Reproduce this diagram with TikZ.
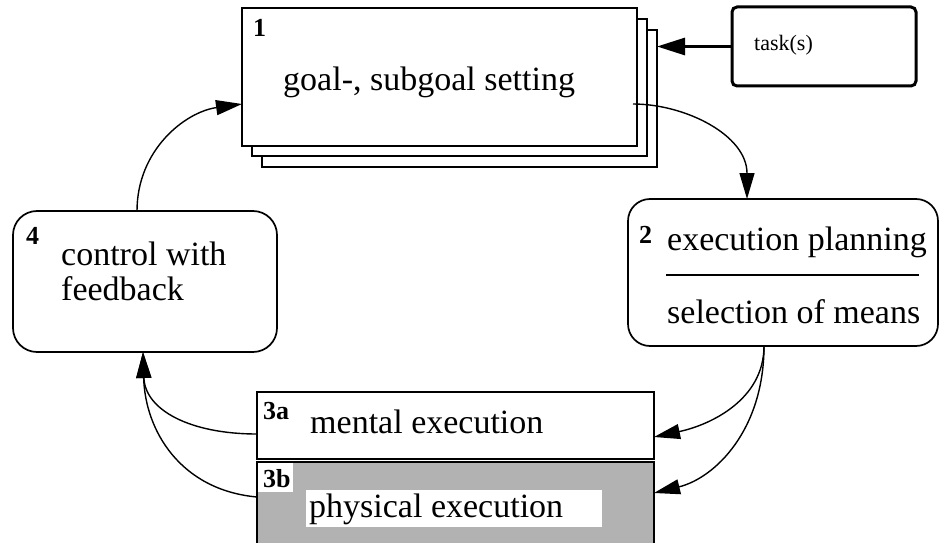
\documentclass[tikz,border=0pt]{standalone}
\usepackage{fontspec}
\setmainfont{Liberation Serif}
\usetikzlibrary{arrows.meta}
\definecolor{shade}{RGB}{178,178,178}
\begin{document}
\begin{tikzpicture}[x=1pt,y=-1pt,
  box/.style={draw,line width=1.7pt,rectangle,inner sep=0pt,outer sep=0pt,anchor=north west,fill=white},
  rbox/.style={box,rounded corners=22pt},
  main/.style={font=\fontsize{34}{36}\selectfont,inner sep=0pt,anchor=base west},
  num/.style={font=\fontsize{26}{27}\selectfont\bfseries,inner sep=0pt,anchor=base west},
  conn/.style={line width=1.4pt,-{Triangle[length=26pt,width=15pt]}},
  thickconn/.style={line width=3pt,-{Triangle[length=28pt,width=17pt]}},
  ]
\useasboundingbox (0,0) rectangle (940,543);
\fill[white] (0,0) rectangle (940,543);
% box 1 (stacked)
\node[box,minimum width=395pt,minimum height=137pt] (b1c) at (262,30) {};
\node[box,minimum width=395pt,minimum height=137pt] (b1b) at (252,19) {};
\node[box,minimum width=395pt,minimum height=138pt] (b1a) at (242,8) {};
\node[num] (n1) at (253,37) {1};
\node[main] (t1) at (283,91) {goal-, subgoal setting};
% task box
\node[box,line width=3pt,rounded corners=5pt,minimum width=184pt,minimum height=79pt] (task) at (732,7) {};
\node[font=\fontsize{22}{24}\selectfont,inner sep=0pt,anchor=base west] (tt) at (754,51) {task(s)};
% box 2
\node[rbox,minimum width=310pt,minimum height=147pt] (b2) at (628,199) {};
\node[num] (n2) at (639,243) {2};
\node[main] (t2a) at (667,250) {execution planning};
\draw[line width=1.7pt] (666,275) -- (919,275);
\node[main] (t2b) at (667,323) {selection of means};
% box 4
\node[box,rounded corners=24pt,minimum width=264pt,minimum height=141pt] (b4) at (13,211) {};
\node[num] (n4) at (26,244) {4};
\node[main] (t4a) at (61,265) {control with};
\node[main] (t4b) at (61,300) {feedback};
% box 3a
\node[box,minimum width=397pt,minimum height=67pt] (b3a) at (257,392) {};
\node[num] (n3a) at (263,419) {3a};
\node[main] (t3a) at (310,433) {mental execution};
% box 3b
\node[box,fill=shade,minimum width=397pt,minimum height=100pt] (b3b) at (257,462) {};
\fill[white] (258,463) rectangle (293,492);
\node[num] (n3b) at (263,487) {3b};
\fill[white] (306,490) rectangle (602,527);
\node[main] (t3b) at (309,517) {physical execution};
% connectors
\draw[thickconn] (task.west) -- (task.west -| b1c.east);
\draw[conn] ([xshift=-4pt,yshift=-27pt]b1a.east) .. controls +(52,0) and +(0,-64) .. ([xshift=-36pt]b2.north);
\draw[conn] ([xshift=-8pt]b4.north) .. controls +(0,-61) and +(-57,8) .. ([yshift=-27pt]b1a.west);
\draw[conn] ([yshift=-8.5pt]b3a.west) .. controls +(-67,0) and +(2,58) .. ([xshift=-2pt]b4.south);
\draw[conn] ([yshift=15pt]b3b.west) .. controls +(-77,-7) and +(2,78) .. ([xshift=-2pt]b4.south);
\draw[conn] ([xshift=-19pt]b2.south) .. controls +(0,54) and +(56,-12) .. ([yshift=-11.5pt]b3a.east);
\draw[conn] ([xshift=-19pt]b2.south) .. controls +(0,84) and +(61,-15) .. ([yshift=19pt]b3b.east);
\end{tikzpicture}
\end{document}
